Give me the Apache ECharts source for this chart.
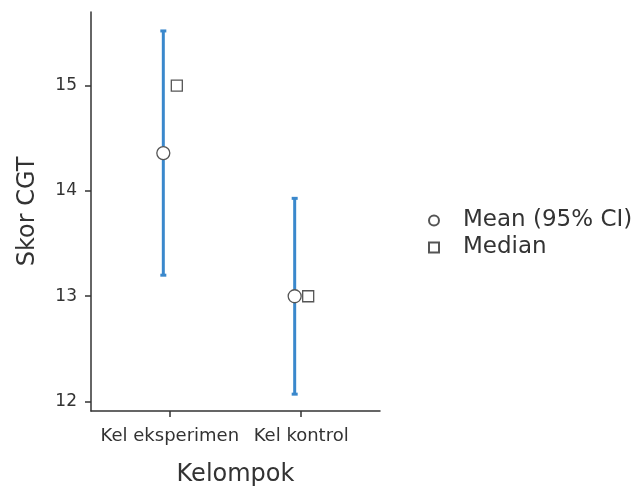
<!DOCTYPE html>
<html>
<head>
<meta charset="utf-8">
<script src="https://cdn.jsdelivr.net/npm/echarts@6/dist/echarts.min.js"></script>
<style>
  html, body { margin: 0; padding: 0; background: #fff; }
  #chart { width: 638px; height: 489px; }
</style>
</head>
<body>
<div id="chart"></div>
<script>
  // data
  const groups = ['Kel eksperimen', 'Kel kontrol']
  const meanVals = [14.36, 13.0]
  const ciLower = [13.2, 12.07]
  const ciUpper = [15.52, 13.93]
  const medianVals = [15, 13]
  const yTicks = [12, 13, 14, 15]

  const font = 'DejaVu Sans, sans-serif'
  const axisColor = '#333'
  const barColor = '#3a88cc'
  const markColor = '#555'

  const xIdx = groups.map((g, i) => i + 1)
  const ciData = xIdx.map((x, i) => [x, ciLower[i], ciUpper[i]])
  const meanData = xIdx.map((x, i) => [x, meanVals[i]])
  const medianData = xIdx.map((x, i) => [x, medianVals[i]])

  const chart = echarts.init(document.getElementById('chart'))
  const option = {
    backgroundColor: '#fff',
    animation: false,
    textStyle: { fontFamily: font },
    grid: { left: 91, top: 12, right: 258, bottom: 78, outerBoundsMode: 'none', containLabel: false },
    legend: {
      orient: 'vertical',
      left: 423,
      top: 204,
      itemWidth: 10,
      itemHeight: 10,
      itemGap: 4,
      textStyle: { fontSize: 23, color: axisColor, fontFamily: font, padding: [0, 0, 0, 19] },
      data: ['Mean (95% CI)', 'Median']
    },
    xAxis: {
      type: 'value',
      min: 0.4,
      max: 2.6,
      name: 'Kelompok',
      nameLocation: 'middle',
      nameGap: 52,
      nameTextStyle: { fontSize: 24, color: axisColor },
      splitLine: { show: false },
      axisLine: { lineStyle: { color: axisColor, width: 1.5 } },
      axisTick: { show: true, length: 6, customValues: xIdx, lineStyle: { color: axisColor, width: 1.5 } },
      axisLabel: {
        customValues: xIdx,
        fontSize: 18,
        color: axisColor,
        margin: 16,
        formatter: v => groups[Math.round(v) - 1] || ''
      }
    },
    yAxis: {
      type: 'value',
      min: 11.91,
      max: 15.7,
      name: 'Skor CGT',
      nameLocation: 'middle',
      nameGap: 51,
      nameTextStyle: { fontSize: 24, color: axisColor },
      splitLine: { show: false },
      axisLine: { show: true, lineStyle: { color: axisColor, width: 1.5 } },
      axisTick: { show: true, length: 6, customValues: yTicks, lineStyle: { color: axisColor, width: 1.5 } },
      axisLabel: { customValues: yTicks, fontSize: 17, color: axisColor, margin: 14 }
    },
    series: [
      {
        type: 'custom',
        name: 'CI',
        data: ciData,
        z: 2,
        renderItem: (params, api) => {
          const top = api.coord([api.value(0), api.value(2)])
          const bot = api.coord([api.value(0), api.value(1)])
          const x = top[0] - 6.5
          const capW = 3
          const style = { stroke: barColor, lineWidth: 3 }
          return {
            type: 'group',
            children: [
              { type: 'line', shape: { x1: x, y1: top[1], x2: x, y2: bot[1] }, style },
              { type: 'line', shape: { x1: x - capW, y1: top[1], x2: x + capW, y2: top[1] }, style: { stroke: barColor, lineWidth: 3 } },
              { type: 'line', shape: { x1: x - capW, y1: bot[1], x2: x + capW, y2: bot[1] }, style: { stroke: barColor, lineWidth: 3 } }
            ]
          }
        }
      },
      {
        type: 'scatter',
        name: 'Mean (95% CI)',
        data: meanData,
        z: 3,
        symbol: 'circle',
        symbolSize: 13,
        symbolOffset: [-6.5, 0],
        itemStyle: { color: '#fff', borderColor: markColor, borderWidth: 1.3, opacity: 1 }
      },
      {
        type: 'scatter',
        name: 'Median',
        data: medianData,
        z: 3,
        symbol: 'rect',
        symbolSize: 11,
        symbolOffset: [7, 0],
        itemStyle: { color: '#fff', borderColor: markColor, borderWidth: 1.3, opacity: 1 }
      }
    ]
  }
  chart.setOption(option)
</script>
</body>
</html>
